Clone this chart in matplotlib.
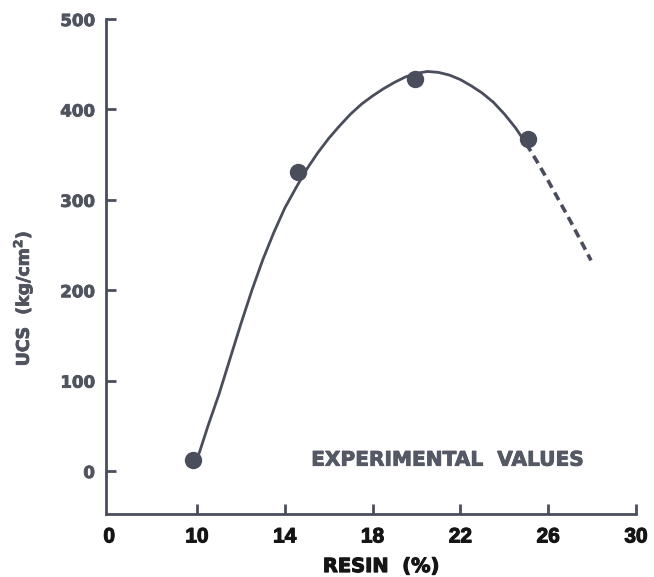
"""
UCS versus resin content, with the fitted curve through the experimental values.
"""

import matplotlib
matplotlib.use("Agg")
import matplotlib.pyplot as plt
import matplotlib.patheffects as pe

# experimental points (resin %, UCS kg/cm2)
resin_pts = [9.8, 14.6, 19.95, 25.1]
ucs_pts = [12, 331, 434, 367]

# fitted curve, solid part
curve_x = [9.85, 10.1, 10.5, 11.0, 11.5, 12.0, 12.5, 13.0, 13.5, 14.0, 14.5,
           15.0, 15.5, 16.0, 16.5, 17.0, 17.5, 18.0, 18.5, 19.0, 19.5, 20.0,
           20.5, 21.0, 21.5, 22.0, 22.5, 23.0, 23.5, 24.0, 24.5, 25.0]
curve_y = [12, 20, 50, 85, 124, 163, 200, 234, 264, 291, 313,
           334, 352, 368, 382, 395, 406, 415, 423, 430, 436, 440,
           442, 441, 438, 433, 426, 418, 408, 395, 380, 362]

# extrapolated (dashed) part
extra_x = [25.0, 25.5, 26.0, 26.5, 27.0, 27.5, 27.95]
extra_y = [362, 342, 321, 299, 277, 254, 233]

xtick_pos = [6, 10, 14, 18, 22, 26, 30]
xtick_labels = ["0", "10", "14", "18", "22", "26", "30"]
ytick_pos = [0, 100, 200, 300, 400, 500]

ink = "#4a4e5c"
grey_text = "#50545f"
dark = "#151515"

plt.rcParams["font.family"] = ["DejaVu Sans"]
plt.rcParams["font.weight"] = "bold"

fig = plt.figure(figsize=(6.54, 5.77), dpi=100)
ax = fig.add_axes([0.162, 0.110, 0.8105, 0.857])

ax.plot(curve_x, curve_y, color=ink, lw=2.0, solid_capstyle="round")
ax.plot(extra_x, extra_y, color=ink, lw=2.6, dashes=(2.4, 1.5))
ax.plot(resin_pts, ucs_pts, "o", color=ink, ms=11.5, zorder=3)

note = ax.text(15.2, 12, "EXPERIMENTAL  VALUES", fontsize=14.5,
               fontweight="bold", color="#555966", ha="left", va="center")

ax.set_xlim(5.85, 30)
ax.set_ylim(-47, 500)

ax.set_xticks(xtick_pos)
ax.set_xticklabels(xtick_labels, family="Liberation Sans", fontweight="bold")
ax.set_yticks(ytick_pos)

for side in ["top", "right"]:
    ax.spines[side].set_visible(False)
for side in ["left", "bottom"]:
    ax.spines[side].set_color(ink)
    ax.spines[side].set_linewidth(2.0)

ax.tick_params(axis="x", direction="in", length=7, width=2.0, color=ink,
               pad=10, labelsize=15, labelcolor=dark)
ax.tick_params(axis="y", direction="in", length=7, width=2.0, color=ink,
               pad=8, labelsize=12, labelcolor=grey_text)
ax.xaxis.get_major_ticks()[0].tick1line.set_visible(False)

ax.set_xlabel("RESIN  (%)", fontsize=14, fontweight="bold", color=dark)
ax.xaxis.set_label_coords(0.519, -0.088)
ax.set_ylabel("UCS  (kg/cm$^\\mathbf{2}$)", fontsize=12.5, fontweight="bold",
              color=grey_text)
ax.yaxis.set_label_coords(-0.134, 0.435)

# heavier print, like the scanned original
for t in ax.get_xticklabels() + [ax.xaxis.label]:
    t.set_path_effects([pe.withStroke(linewidth=0.8, foreground=dark)])
for t in ax.get_yticklabels() + [ax.yaxis.label, note]:
    t.set_path_effects([pe.withStroke(linewidth=0.6, foreground=grey_text)])

fig.savefig("out.png", dpi=100)
